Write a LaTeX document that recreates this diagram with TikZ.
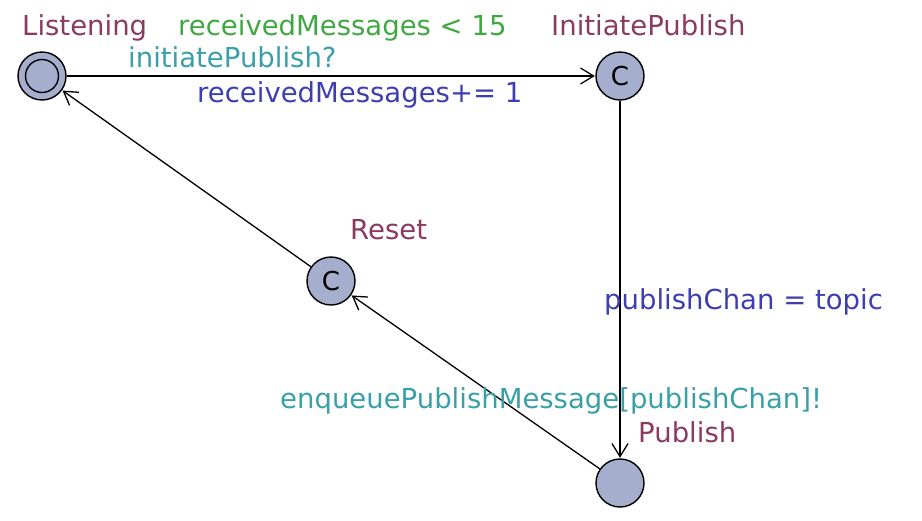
\documentclass[tikz,border=0pt]{standalone}
\usepackage{fontspec}
\setmainfont{DejaVu Sans}
\usetikzlibrary{positioning,arrows.meta}
\definecolor{locfill}{RGB}{166,174,206}
\definecolor{locname}{RGB}{139,58,98}
\definecolor{guardc}{RGB}{64,168,66}
\definecolor{syncc}{RGB}{58,160,168}
\definecolor{updc}{RGB}{62,62,176}

\begin{document}
\begin{tikzpicture}
  [x=1pt,y=-1pt,
   loc/.style={circle,draw,line width=1.4pt,fill=locfill,minimum size=48pt,inner sep=0pt,
     font=\fontsize{26}{28}\selectfont},
   edge/.style={line width=1.3pt,-{Straight Barb[length=13pt,width=16pt,line width=1.3pt]},shorten >=0.5pt},
   txt/.style={inner sep=0pt,anchor=base west,font=\fontsize{27.5}{30}\selectfont}]
  \useasboundingbox (0,0) rectangle (922,520);
  \node[loc] (listen) at (42,76) {};
  \draw[line width=1.4pt] (listen.center) circle (16.5pt);
  \node[loc] (initpub) at (620,76) {C};
  \node[loc] (reset) at (331,281) {C};
  \node[loc] (pub) at (620,483) {};

  \draw[edge] (listen) -- (initpub);
  \draw[edge] (initpub) -- (pub);
  \draw[edge] (pub) -- (reset);
  \draw[edge] (reset) -- (listen);

  % location names
  \node[txt,locname] (nlisten) at (22,35) {Listening};
  \node[txt,locname] (ninitpub) at (551,35) {InitiatePublish};
  \node[txt,locname] (nreset) at (350,239) {Reset};
  \node[txt,locname] (npub) at (638,442) {Publish};

  % edge labels
  \node[txt,guardc] (guard) at (178,35) {receivedMessages < 15};
  \node[txt,syncc] (sync1) at (128,67) {initiatePublish?};
  \node[txt,updc] (upd1) at (197,102) {receivedMessages+= 1};
  \node[txt,updc] (upd2) at (604,309) {publishChan = topic};
  \node[txt,syncc] (sync2) at (280,408) {enqueuePublishMessage[publishChan]!};
\end{tikzpicture}
\end{document}
